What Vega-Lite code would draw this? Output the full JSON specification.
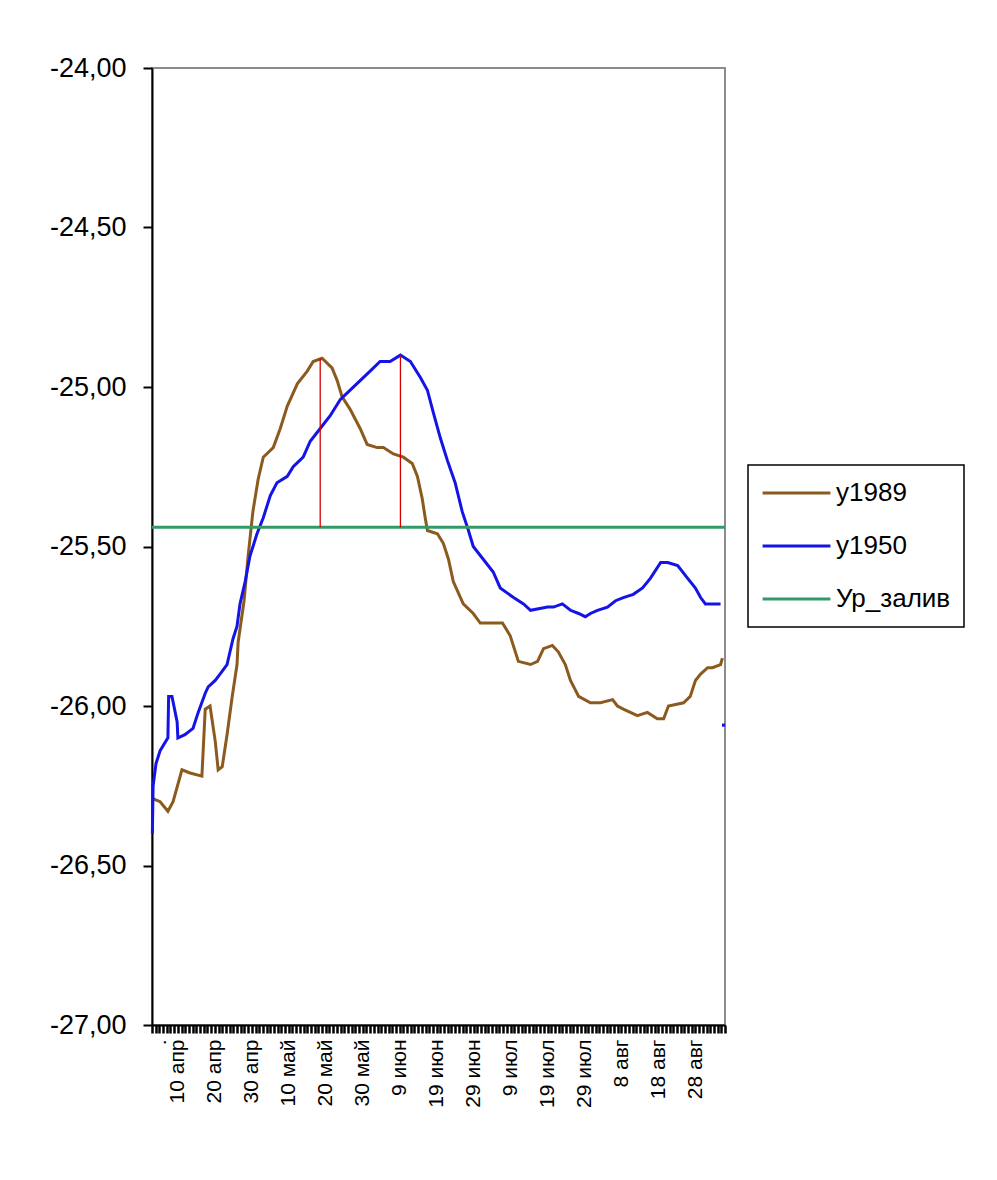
{
  "$schema": "https://vega.github.io/schema/vega-lite/v6.json",
  "width": 573,
  "height": 957,
  "autosize": {"type": "none"},
  "padding": {"left": 152, "top": 68, "right": 272, "bottom": 155},
  "background": "white",
  "config": {"view": {"stroke": "#8c8c8c", "strokeWidth": 2}, "font": "Liberation Sans", "legend": {"strokeWidth": 1.5}},
  "datasets": {
    "series": [
      {"s": "y1989", "t": 3.1, "v": -26.29},
      {"s": "y1989", "t": 5.2, "v": -26.30},
      {"s": "y1989", "t": 7.3, "v": -26.33},
      {"s": "y1989", "t": 8.7, "v": -26.30},
      {"s": "y1989", "t": 11.1, "v": -26.20},
      {"s": "y1989", "t": 13.3, "v": -26.21},
      {"s": "y1989", "t": 16.5, "v": -26.22},
      {"s": "y1989", "t": 17.4, "v": -26.01},
      {"s": "y1989", "t": 18.7, "v": -26.00},
      {"s": "y1989", "t": 20.1, "v": -26.11},
      {"s": "y1989", "t": 20.9, "v": -26.20},
      {"s": "y1989", "t": 22.0, "v": -26.19},
      {"s": "y1989", "t": 23.3, "v": -26.09},
      {"s": "y1989", "t": 24.7, "v": -25.97},
      {"s": "y1989", "t": 26.0, "v": -25.87},
      {"s": "y1989", "t": 26.3, "v": -25.80},
      {"s": "y1989", "t": 27.9, "v": -25.67},
      {"s": "y1989", "t": 29.0, "v": -25.53},
      {"s": "y1989", "t": 30.3, "v": -25.39},
      {"s": "y1989", "t": 31.7, "v": -25.29},
      {"s": "y1989", "t": 33.1, "v": -25.22},
      {"s": "y1989", "t": 35.8, "v": -25.19},
      {"s": "y1989", "t": 37.7, "v": -25.13},
      {"s": "y1989", "t": 39.6, "v": -25.06},
      {"s": "y1989", "t": 42.3, "v": -24.99},
      {"s": "y1989", "t": 45.0, "v": -24.95},
      {"s": "y1989", "t": 46.6, "v": -24.92},
      {"s": "y1989", "t": 49.0, "v": -24.91},
      {"s": "y1989", "t": 51.7, "v": -24.94},
      {"s": "y1989", "t": 53.1, "v": -24.98},
      {"s": "y1989", "t": 54.4, "v": -25.03},
      {"s": "y1989", "t": 56.6, "v": -25.07},
      {"s": "y1989", "t": 59.3, "v": -25.13},
      {"s": "y1989", "t": 61.2, "v": -25.18},
      {"s": "y1989", "t": 63.9, "v": -25.19},
      {"s": "y1989", "t": 65.6, "v": -25.19},
      {"s": "y1989", "t": 68.3, "v": -25.21},
      {"s": "y1989", "t": 71.0, "v": -25.22},
      {"s": "y1989", "t": 73.4, "v": -25.24},
      {"s": "y1989", "t": 74.8, "v": -25.28},
      {"s": "y1989", "t": 76.1, "v": -25.35},
      {"s": "y1989", "t": 76.9, "v": -25.41},
      {"s": "y1989", "t": 77.5, "v": -25.45},
      {"s": "y1989", "t": 80.2, "v": -25.46},
      {"s": "y1989", "t": 81.8, "v": -25.49},
      {"s": "y1989", "t": 83.2, "v": -25.54},
      {"s": "y1989", "t": 84.5, "v": -25.61},
      {"s": "y1989", "t": 87.2, "v": -25.68},
      {"s": "y1989", "t": 89.9, "v": -25.71},
      {"s": "y1989", "t": 91.8, "v": -25.74},
      {"s": "y1989", "t": 97.8, "v": -25.74},
      {"s": "y1989", "t": 99.9, "v": -25.78},
      {"s": "y1989", "t": 102.1, "v": -25.86},
      {"s": "y1989", "t": 105.4, "v": -25.87},
      {"s": "y1989", "t": 107.3, "v": -25.86},
      {"s": "y1989", "t": 108.9, "v": -25.82},
      {"s": "y1989", "t": 111.3, "v": -25.81},
      {"s": "y1989", "t": 112.9, "v": -25.83},
      {"s": "y1989", "t": 114.8, "v": -25.87},
      {"s": "y1989", "t": 116.2, "v": -25.92},
      {"s": "y1989", "t": 118.4, "v": -25.97},
      {"s": "y1989", "t": 121.6, "v": -25.99},
      {"s": "y1989", "t": 124.3, "v": -25.99},
      {"s": "y1989", "t": 127.6, "v": -25.98},
      {"s": "y1989", "t": 128.9, "v": -26.00},
      {"s": "y1989", "t": 130.5, "v": -26.01},
      {"s": "y1989", "t": 134.3, "v": -26.03},
      {"s": "y1989", "t": 137.0, "v": -26.02},
      {"s": "y1989", "t": 139.7, "v": -26.04},
      {"s": "y1989", "t": 141.4, "v": -26.04},
      {"s": "y1989", "t": 142.7, "v": -26.00},
      {"s": "y1989", "t": 146.8, "v": -25.99},
      {"s": "y1989", "t": 148.6, "v": -25.97},
      {"s": "y1989", "t": 150.0, "v": -25.92},
      {"s": "y1989", "t": 151.4, "v": -25.90},
      {"s": "y1989", "t": 153.3, "v": -25.88},
      {"s": "y1989", "t": 154.6, "v": -25.88},
      {"s": "y1989", "t": 156.8, "v": -25.87},
      {"s": "y1989", "t": 157.3, "v": -25.85},
      {"s": "y1950", "t": 3.1, "v": -26.40},
      {"s": "y1950", "t": 3.3, "v": -26.25},
      {"s": "y1950", "t": 4.1, "v": -26.18},
      {"s": "y1950", "t": 5.2, "v": -26.14},
      {"s": "y1950", "t": 7.3, "v": -26.10},
      {"s": "y1950", "t": 7.5, "v": -25.97},
      {"s": "y1950", "t": 8.4, "v": -25.97},
      {"s": "y1950", "t": 9.8, "v": -26.05},
      {"s": "y1950", "t": 10.0, "v": -26.10},
      {"s": "y1950", "t": 11.9, "v": -26.09},
      {"s": "y1950", "t": 14.1, "v": -26.07},
      {"s": "y1950", "t": 15.5, "v": -26.02},
      {"s": "y1950", "t": 17.4, "v": -25.96},
      {"s": "y1950", "t": 18.2, "v": -25.94},
      {"s": "y1950", "t": 20.1, "v": -25.92},
      {"s": "y1950", "t": 21.4, "v": -25.90},
      {"s": "y1950", "t": 23.3, "v": -25.87},
      {"s": "y1950", "t": 24.1, "v": -25.83},
      {"s": "y1950", "t": 24.9, "v": -25.79},
      {"s": "y1950", "t": 26.0, "v": -25.75},
      {"s": "y1950", "t": 26.8, "v": -25.68},
      {"s": "y1950", "t": 28.2, "v": -25.61},
      {"s": "y1950", "t": 29.5, "v": -25.53},
      {"s": "y1950", "t": 31.4, "v": -25.46},
      {"s": "y1950", "t": 33.1, "v": -25.41},
      {"s": "y1950", "t": 35.0, "v": -25.34},
      {"s": "y1950", "t": 36.8, "v": -25.30},
      {"s": "y1950", "t": 39.6, "v": -25.28},
      {"s": "y1950", "t": 41.2, "v": -25.25},
      {"s": "y1950", "t": 43.9, "v": -25.22},
      {"s": "y1950", "t": 45.8, "v": -25.17},
      {"s": "y1950", "t": 48.5, "v": -25.13},
      {"s": "y1950", "t": 51.2, "v": -25.09},
      {"s": "y1950", "t": 53.9, "v": -25.04},
      {"s": "y1950", "t": 56.6, "v": -25.01},
      {"s": "y1950", "t": 59.3, "v": -24.98},
      {"s": "y1950", "t": 62.0, "v": -24.95},
      {"s": "y1950", "t": 64.7, "v": -24.92},
      {"s": "y1950", "t": 67.4, "v": -24.92},
      {"s": "y1950", "t": 70.2, "v": -24.90},
      {"s": "y1950", "t": 72.9, "v": -24.92},
      {"s": "y1950", "t": 75.6, "v": -24.97},
      {"s": "y1950", "t": 77.5, "v": -25.01},
      {"s": "y1950", "t": 79.1, "v": -25.08},
      {"s": "y1950", "t": 81.0, "v": -25.16},
      {"s": "y1950", "t": 82.9, "v": -25.23},
      {"s": "y1950", "t": 85.0, "v": -25.30},
      {"s": "y1950", "t": 86.9, "v": -25.39},
      {"s": "y1950", "t": 88.6, "v": -25.45},
      {"s": "y1950", "t": 89.9, "v": -25.50},
      {"s": "y1950", "t": 92.6, "v": -25.54},
      {"s": "y1950", "t": 95.3, "v": -25.58},
      {"s": "y1950", "t": 97.2, "v": -25.63},
      {"s": "y1950", "t": 100.8, "v": -25.66},
      {"s": "y1950", "t": 103.5, "v": -25.68},
      {"s": "y1950", "t": 105.4, "v": -25.70},
      {"s": "y1950", "t": 110.0, "v": -25.69},
      {"s": "y1950", "t": 111.6, "v": -25.69},
      {"s": "y1950", "t": 114.0, "v": -25.68},
      {"s": "y1950", "t": 116.2, "v": -25.70},
      {"s": "y1950", "t": 118.4, "v": -25.71},
      {"s": "y1950", "t": 120.2, "v": -25.72},
      {"s": "y1950", "t": 121.6, "v": -25.71},
      {"s": "y1950", "t": 123.5, "v": -25.70},
      {"s": "y1950", "t": 126.2, "v": -25.69},
      {"s": "y1950", "t": 128.4, "v": -25.67},
      {"s": "y1950", "t": 130.5, "v": -25.66},
      {"s": "y1950", "t": 133.2, "v": -25.65},
      {"s": "y1950", "t": 135.7, "v": -25.63},
      {"s": "y1950", "t": 137.8, "v": -25.60},
      {"s": "y1950", "t": 140.6, "v": -25.55},
      {"s": "y1950", "t": 142.5, "v": -25.55},
      {"s": "y1950", "t": 145.2, "v": -25.56},
      {"s": "y1950", "t": 147.9, "v": -25.60},
      {"s": "y1950", "t": 150.0, "v": -25.63},
      {"s": "y1950", "t": 151.4, "v": -25.66},
      {"s": "y1950", "t": 152.7, "v": -25.68},
      {"s": "y1950", "t": 156.8, "v": -25.68},
      {"s": "Ур_залив", "t": 3, "v": -25.44},
      {"s": "Ур_залив", "t": 158, "v": -25.44}
    ],
    "peaks": [
      {"t": 48.5, "v": -24.91, "v2": -25.44},
      {"t": 70.2, "v": -24.90, "v2": -25.44}
    ],
    "lastpoint": [
      {"t": 157.6, "v": -26.06}
    ]
  },
  "encoding": {
    "x": {
      "field": "t", "type": "quantitative",
      "scale": {"domain": [3, 158], "nice": false, "zero": false},
      "axis": {
        "title": null, "grid": false,
        "values": [3,4,5,6,7,8,9,10,11,12,13,14,15,16,17,18,19,20,21,22,23,24,25,26,27,28,29,30,31,32,33,34,35,36,37,38,39,40,41,42,43,44,45,46,47,48,49,50,51,52,53,54,55,56,57,58,59,60,61,62,63,64,65,66,67,68,69,70,71,72,73,74,75,76,77,78,79,80,81,82,83,84,85,86,87,88,89,90,91,92,93,94,95,96,97,98,99,100,101,102,103,104,105,106,107,108,109,110,111,112,113,114,115,116,117,118,119,120,121,122,123,124,125,126,127,128,129,130,131,132,133,134,135,136,137,138,139,140,141,142,143,144,145,146,147,148,149,150,151,152,153,154,155,156,157,158],
        "labelExpr": "datum.value == 5 ? '.' : ((datum.value % 10 == 0 && datum.value >= 10 && datum.value <= 150) ? ['10 апр','20 апр','30 апр','10 май','20 май','30 май','9 июн','19 июн','29 июн','9 июл','19 июл','29 июл','8 авг','18 авг','28 авг'][datum.value / 10 - 1] : '')",
        "labelAngle": 270,
        "labelFontSize": 21,
        "labelFont": "Liberation Sans",
        "labelColor": "black",
        "labelPadding": 6,
        "labelOverlap": false,
        "labelFlush": false,
        "labelBound": false,
        "domainColor": "black",
        "domainWidth": 2,
        "tickColor": "black",
        "tickWidth": 2.5,
        "tickSize": 8
      }
    },
    "y": {
      "field": "v", "type": "quantitative",
      "scale": {"domain": [-27, -24], "nice": false, "zero": false},
      "axis": {
        "title": null, "grid": false,
        "values": [-27, -26.5, -26, -25.5, -25, -24.5, -24],
        "labelExpr": "'-' + replace(format(-datum.value, '.2f'), '.', ',')",
        "labelFontSize": 27,
        "labelFont": "Liberation Sans",
        "labelColor": "black",
        "labelPadding": 17,
        "labelOverlap": false,
        "domainColor": "black",
        "domainWidth": 2,
        "tickColor": "black",
        "tickWidth": 2,
        "tickSize": 9
      }
    }
  },
  "layer": [
    {
      "data": {"name": "series"},
      "mark": {"type": "line", "strokeWidth": 3, "interpolate": "linear"},
      "encoding": {
        "color": {
          "field": "s", "type": "nominal", "sort": null,
          "scale": {"domain": ["y1989", "y1950", "Ур_залив"], "range": ["#8a5a1e", "#1414e6", "#339966"]},
          "legend": {
            "title": null, "orient": "none", "legendX": 596, "legendY": 397,
            "symbolType": "stroke", "symbolSize": 4600, "symbolStrokeWidth": 3,
            "labelFontSize": 26, "labelFont": "Liberation Sans", "labelColor": "black",
            "labelOffset": 4, "strokeColor": "black", "fillColor": "white",
            "padding": 13, "rowPadding": 23, "clipHeight": 30
          }
        },
        "strokeWidth": {
          "field": "s", "type": "nominal",
          "scale": {"domain": ["y1989", "y1950", "Ур_залив"], "range": [3, 3, 4.5]},
          "legend": null
        }
      }
    },
    {
      "data": {"name": "peaks"},
      "mark": {"type": "rule", "color": "#d40000", "strokeWidth": 1.3},
      "encoding": {
        "y2": {"field": "v2"}
      }
    },
    {
      "data": {"name": "lastpoint"},
      "mark": {"type": "square", "color": "#1414e6", "size": 10, "filled": true, "opacity": 1}
    }
  ]
}
